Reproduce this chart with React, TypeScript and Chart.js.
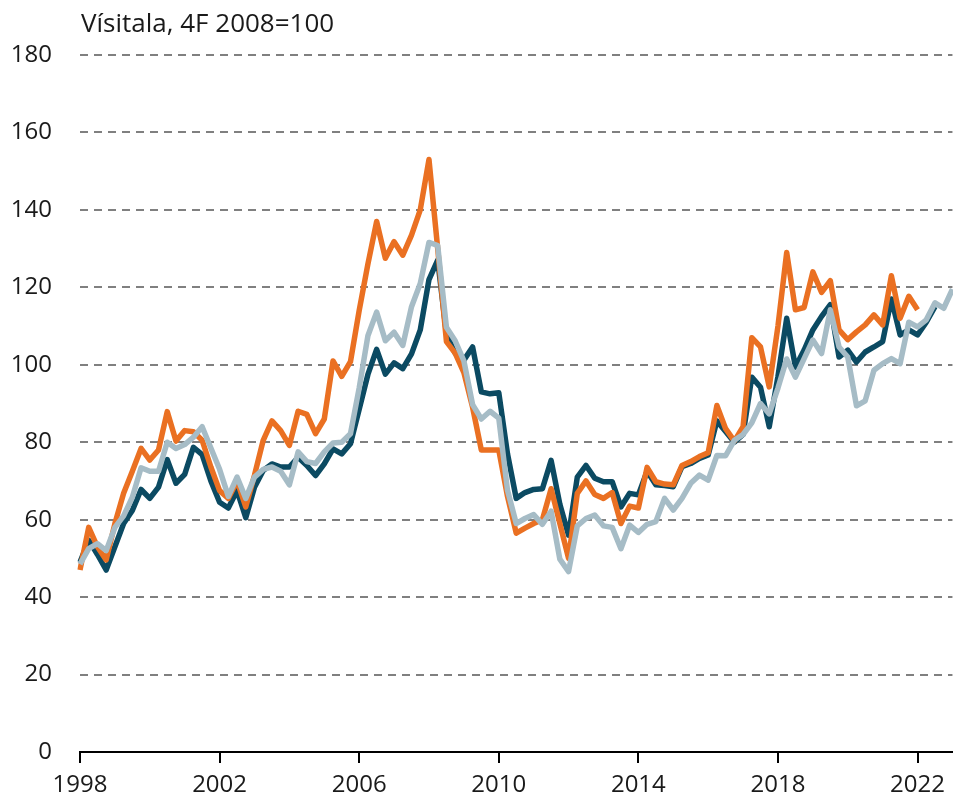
import React, { useEffect, useRef } from 'react';
import { Chart, registerables } from 'chart.js';

Chart.register(...registerables);

const START_YEAR = 1998;
const QUARTER_COUNT = 101; // 1998Q1 .. 2023Q1
const categories: string[] = Array.from(
  { length: QUARTER_COUNT },
  (_, i) => `${START_YEAR + Math.floor(i / 4)}Q${(i % 4) + 1}`
);

const TITLE = 'Vísitala, 4F 2008=100';
const TICK_EVERY = 16; // label every 4 years

const orangeSeries: number[] = [
  47, 58, 53, 49.6, 59, 66.8, 72.5, 78.4, 75.4, 78,
  87.9, 80.3, 83, 82.7, 80.5, 73.6, 67.5, 65.5, 70, 63.3,
  71.5, 80.5, 85.5, 83, 79.2, 88, 87.2, 82.2, 86, 101,
  97, 100.8, 114, 126, 137, 127.5, 131.8, 128.3, 133.5, 140,
  153, 130, 106, 103, 98, 89, 78, 78, 78, 66,
  56.5, 57.8, 59, 60, 68, 59, 50, 66.8, 70, 66.5,
  65.5, 67, 59, 63.5, 63, 73.5, 69.8, 69.2, 69, 74,
  75, 76.3, 77.3, 89.5, 83.5, 80.3, 84, 107, 104.6, 94.3,
  110, 129, 114.2, 114.8, 124, 118.7, 121.7, 109, 106.5, 108.5,
  110.3, 112.9, 110.3, 123, 112, 117.7, 114.2,
];

const darkSeries: number[] = [
  49, 54.7, 51, 47, 53, 59, 62.4, 67.8, 65.5, 68.4,
  75.5, 69.4, 71.7, 78.7, 76.8, 70, 64.5, 63, 67.5, 60.5,
  68.4, 72.7, 74.4, 73.6, 73.6, 76.1, 74, 71.4, 74.4, 78.3,
  77, 79.6, 88.5, 97.5, 104, 97.6, 100.5, 99, 102.8, 109,
  122, 127, 108, 103, 101.2, 104.6, 93, 92.5, 92.8, 77,
  65.5, 67, 67.8, 68, 75.3, 64, 56, 71, 74, 70.7,
  69.8, 69.8, 63.3, 66.8, 66.4, 72.5, 69, 68.8, 68.5, 73.7,
  74.5, 75.8, 76.7, 85.5, 82.8, 80, 82, 96.8, 94.2, 84,
  97, 112, 99.4, 103.8, 109, 112.5, 115.5, 102, 103.8, 100.7,
  103.3, 104.6, 106, 117, 107.7, 109, 107.7, 111, 115,
];

const lightSeries: number[] = [
  48.5, 52.5, 53.8, 52, 58, 61, 65.8, 73.4, 72.5, 72.5,
  80, 78.4, 79.4, 81.3, 84, 78.5, 73, 66, 71, 65.5,
  71, 73, 73.6, 72.5, 69, 77.5, 75, 74.5, 77.5, 79.8,
  80, 82.2, 94, 107.5, 113.6, 106.2, 108.4, 105, 115, 121,
  131.6, 130.8, 109.7, 106.2, 101, 89.7, 86, 88, 86.2, 67.6,
  59, 60.3, 61.3, 58.8, 62.2, 49.8, 46.6, 58.4, 60.3, 61.2,
  58.4, 58, 52.5, 58.6, 56.7, 58.8, 59.5, 65.5, 62.5, 65.5,
  69.4, 71.5, 70.2, 76.6, 76.5, 80.5, 82, 85, 90, 87.3,
  94, 101.5, 96.8, 101.6, 106.4, 102.9, 114.2, 104.6, 102, 89.4,
  90.7, 98.6, 100.3, 101.6, 100.3, 111, 109.8, 111.6, 116, 114.6,
  119.5,
];

const Y_MIN = 0;
const Y_MAX = 180;
const Y_STEP = 20;

const COLOR_ORANGE = '#EA7022';
const COLOR_DARK = '#0B4A62';
const COLOR_LIGHT = '#A6BCC6';
const FONT_FAMILY = '"Open Sans", "Noto Sans", sans-serif';

const titlePlugin = {
  id: 'topTitle',
  afterDraw(chart: any) {
    const ctx = chart.ctx;
    ctx.save();
    ctx.font = `26px ${FONT_FAMILY}`;
    ctx.fillStyle = '#1a1a1a';
    ctx.textAlign = 'left';
    ctx.textBaseline = 'middle';
    ctx.fillText(TITLE, chart.chartArea.left + 1, 25);
    ctx.restore();
  },
};

export default function App() {
  const canvasRef = useRef<HTMLCanvasElement | null>(null);

  useEffect(() => {
    document.body.style.margin = '0';
    const canvas = canvasRef.current;
    if (!canvas) return;

    const chart = new Chart(canvas, {
      type: 'line',
      data: {
        labels: categories,
        datasets: [
          { label: 'light', data: lightSeries, borderColor: COLOR_LIGHT },
          { label: 'orange', data: orangeSeries, borderColor: COLOR_ORANGE },
          { label: 'dark', data: darkSeries, borderColor: COLOR_DARK },
        ],
      },
      options: {
        animation: false,
        responsive: false,
        maintainAspectRatio: false,
        layout: { padding: { top: 55, right: 0, bottom: 0, left: 0 } },
        plugins: {
          legend: { display: false },
          tooltip: { enabled: false },
          title: { display: false },
        },
        elements: {
          point: { radius: 0, hoverRadius: 0 },
          line: {
            borderWidth: 5.5,
            tension: 0,
            borderJoinStyle: 'round',
            borderCapStyle: 'butt',
            fill: false,
          },
        },
        scales: {
          x: {
            type: 'category',
            offset: false,
            grid: {
              display: true,
              drawOnChartArea: false,
              drawTicks: true,
              tickLength: 11,
              color: '#000',
              lineWidth: 2,
            },
            border: { display: true, color: '#000', width: 2 },
            ticks: {
              autoSkip: false,
              maxRotation: 0,
              minRotation: 0,
              padding: 8,
              color: '#1a1a1a',
              font: { family: FONT_FAMILY, size: 24 },
              callback: (value: any) => categories[value as number].slice(0, 4),
            },
            afterBuildTicks: (axis: any) => {
              axis.ticks = axis.ticks.filter((t: any) => t.value % TICK_EVERY === 0);
            },
            afterFit: (scale: any) => {
              scale.height = 51;
            },
          },
          y: {
            min: Y_MIN,
            max: Y_MAX,
            ticks: {
              stepSize: Y_STEP,
              padding: 28,
              color: '#1a1a1a',
              font: { family: FONT_FAMILY, size: 24 },
            },
            grid: {
              color: (ctx: any) => (ctx.tick && ctx.tick.value === 0 ? 'rgba(0,0,0,0)' : '#808080'),
              lineWidth: 2,
              drawTicks: false,
            },
            border: { display: false, dash: [8, 6] },
            afterFit: (scale: any) => {
              scale.width = 80;
            },
          },
        },
      },
      plugins: [titlePlugin],
    } as any);

    return () => {
      chart.destroy();
    };
  }, []);

  return (
    <div style={{ position: 'fixed', left: 0, top: 0, width: 953, height: 803 }}>
      <canvas ref={canvasRef} width={953} height={803} />
    </div>
  );
}
